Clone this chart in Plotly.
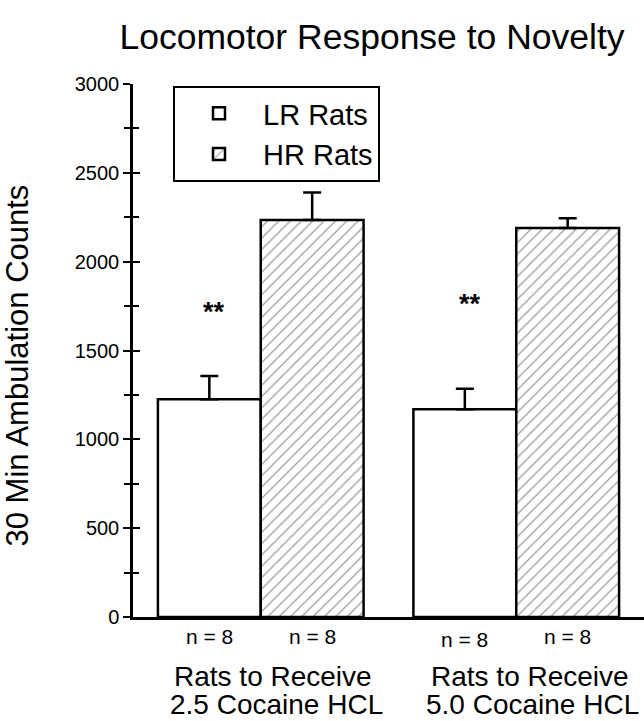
import plotly.graph_objects as go

# ---- data ----
groups = ["2.5 Cocaine HCL", "5.0 Cocaine HCL"]
group_line1 = ["Rats to Receive", "Rats to Receive"]
group_line2 = ["2.5 Cocaine HCL", "5.0 Cocaine HCL"]
lr_means = [1225, 1169]
lr_sem = [131, 116]
hr_means = [2234, 2190]
hr_sem = [156, 55]
n_lr = [8, 8]
n_hr = [8, 8]
star_y = [1716, 1761]
y_ticks = [0, 500, 1000, 1500, 2000, 2500, 3000]

FONT = "Liberation Sans, Arial, Helvetica, sans-serif"

fig = go.Figure()
fig.add_trace(go.Bar(
    name="LR Rats", x=groups, y=lr_means,
    marker=dict(color="white", line=dict(color="black", width=2.5)),
    error_y=dict(type="data", symmetric=False, array=lr_sem,
                 arrayminus=[0] * len(lr_sem), color="black",
                 thickness=2.5, width=9),
))
fig.add_trace(go.Bar(
    name="HR Rats", x=groups, y=hr_means,
    marker=dict(color="white", line=dict(color="black", width=2.5),
                pattern=dict(shape="/", size=8, solidity=0.15,
                             fgcolor="#333333", bgcolor="white")),
    error_y=dict(type="data", symmetric=False, array=hr_sem,
                 arrayminus=[0] * len(hr_sem), color="black",
                 thickness=2.5, width=9),
))

# plot geometry helpers (pixels)
L, R, T, B = 133, 0, 84, 104
W = 644 - L - R
H = 721 - T - B
bargap = 0.195
unit_px = W / 2.0
half_bar_px = (1 - bargap) / 2 * unit_px / 2

ann = []
for i, g in enumerate(groups):
    # significance stars over LR bar
    ann.append(dict(x=g, y=star_y[i], xref="x", yref="y", text="<b>**</b>",
                    showarrow=False, xshift=-half_bar_px + 5,
                    font=dict(size=27, family=FONT, color="black")))
    # n labels
    ann.append(dict(x=g, y=0, xref="x", yref="paper", text=f"n = {n_lr[i]}",
                    showarrow=False, xshift=-half_bar_px, yanchor="middle",
                    yshift=-19 - 3 * i,
                    font=dict(size=21, family=FONT, color="black")))
    ann.append(dict(x=g, y=0, xref="x", yref="paper", text=f"n = {n_hr[i]}",
                    showarrow=False, xshift=half_bar_px, yanchor="middle",
                    yshift=-19,
                    font=dict(size=21, family=FONT, color="black")))
    # group labels (two lines)
    ann.append(dict(x=g, y=0, xref="x", yref="paper", text=group_line1[i],
                    showarrow=False, xshift=12 + 2 * i, yanchor="middle",
                    yshift=-59,
                    font=dict(size=28, family=FONT, color="black")))
    ann.append(dict(x=g, y=0, xref="x", yref="paper", text=group_line2[i],
                    showarrow=False, xshift=16, yanchor="middle",
                    yshift=-87,
                    font=dict(size=28, family=FONT, color="black")))

# y axis title
ann.append(dict(x=0, y=0.5, xref="paper", yref="paper",
                text="30 Min Ambulation Counts", textangle=-90,
                showarrow=False, xanchor="center", yanchor="middle",
                xshift=-116, yshift=-15,
                font=dict(size=31, family=FONT, color="black")))

fig.update_layout(
    width=644, height=721,
    margin=dict(l=L, r=R, t=T, b=B, autoexpand=False),
    paper_bgcolor="white", plot_bgcolor="white",
    barmode="group", bargap=bargap, bargroupgap=0,
    title=dict(text="Locomotor Response to Novelty", x=372 / 644, xref="container",
               xanchor="center", y=1 - 37 / 721, yref="container", yanchor="middle",
               font=dict(size=35.5, family=FONT, color="black")),
    font=dict(family=FONT, color="black"),
    showlegend=True,
    legend=dict(x=(173 - L) / W, y=(617 - 86) / H, xanchor="left", yanchor="top",
                bgcolor="white", bordercolor="black", borderwidth=2,
                font=dict(size=29, family=FONT, color="black"),
                itemwidth=78, tracegroupgap=0),
    xaxis=dict(type="category", range=[-0.5, 1.5], showticklabels=False,
               ticks="", showline=True, linecolor="black", linewidth=2.5,
               showgrid=False, zeroline=False),
    yaxis=dict(range=[0, 3000], tickvals=y_ticks, ticks="outside", ticklen=7,
               tickwidth=2, tickcolor="black", showline=True, linecolor="black",
               linewidth=2.5, showgrid=False, zeroline=False,
               tickfont=dict(size=20, family=FONT, color="black"),
               minor=dict(dtick=250, ticks="outside", ticklen=6, tickwidth=2,
                          tickcolor="black", showgrid=False)),
    yaxis2=dict(range=[0, 3000], overlaying="y", side="left", anchor="x",
                tickvals=y_ticks, ticks="inside", ticklen=7, tickwidth=2,
                tickcolor="black", showticklabels=False, showline=False,
                showgrid=False, zeroline=False,
                minor=dict(dtick=250, ticks="inside", ticklen=6, tickwidth=2,
                           tickcolor="black", showgrid=False)),
    annotations=ann,
)
# invisible trace to activate the overlay axis carrying the inner tick halves
fig.add_trace(go.Scatter(x=groups, y=[None] * len(groups), yaxis="y2",
                         showlegend=False, hoverinfo="skip", mode="markers"))

fig.write_html(
    "out.html",
    config={"displayModeBar": False},
    post_script="document.body.style.margin='0';document.body.style.overflow='hidden';",
)
